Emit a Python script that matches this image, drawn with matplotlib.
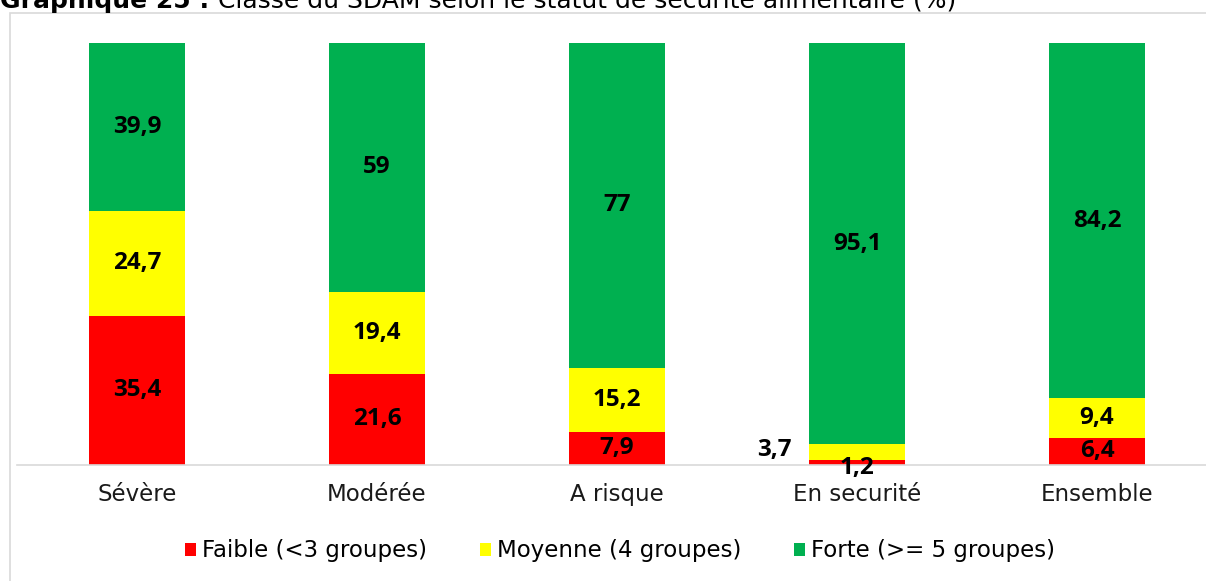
import matplotlib
matplotlib.use("Agg")
import matplotlib.pyplot as plt
from matplotlib.patches import Rectangle

# ------------------------------------------------------------
#  données (%)
# ------------------------------------------------------------
categories = ["Sévère", "Modérée", "A risque", "En securité", "Ensemble"]
faible = [35.4, 21.6, 7.9, 1.2, 6.4]
moyenne = [24.7, 19.4, 15.2, 3.7, 9.4]
forte = [39.9, 59, 77, 95.1, 84.2]
series_labels = ["Faible (<3 groupes)", "Moyenne (4 groupes)", "Forte (>= 5 groupes)"]
colors = ["#FF0000", "#FFFF00", "#00B050"]

W, H = 1206, 581
fig = plt.figure(figsize=(W / 100, H / 100), dpi=100)

# cadre gris autour du graphique
fig.patches.append(Rectangle((10 / W, -0.1), 1.1, (H - 13) / H + 0.1,
                             transform=fig.transFigure, fill=False,
                             edgecolor="#d9d9d9", linewidth=1.2))

ax = fig.add_axes([17 / W, 116 / H, 1200 / W, 422 / H])
x = list(range(len(categories)))
bottom = [0] * len(categories)
for vals, lab, c in zip([faible, moyenne, forte], series_labels, colors):
    ax.bar(x, vals, width=0.4, bottom=bottom, color=c, label=lab)
    bottom = [bb + v for bb, v in zip(bottom, vals)]

ax.set_xlim(-0.5, 4.5)
ax.set_ylim(0, 100)
for s in ["top", "right", "left"]:
    ax.spines[s].set_visible(False)
ax.spines["bottom"].set_color("#d9d9d9")
ax.spines["bottom"].set_linewidth(1.2)
ax.set_yticks([])
ax.set_xticks(x)
ax.set_xticklabels(categories, fontsize=16.5, color="#1a1a1a", family="DejaVu Sans")
ax.tick_params(axis="x", length=0, pad=13)

# étiquettes de valeurs
lab_kw = dict(fontsize=17.5, fontweight="bold", family="Open Sans",
              ha="center", va="center", color="black")
def fmt(v):
    return f"{v:g}".replace(".", ",")

start = [0] * len(categories)
for vals in [faible, moyenne, forte]:
    for i, v in enumerate(vals):
        cy = start[i] + v / 2
        if categories[i] == "En securité" and v < 2:
            ax.text(i, start[i] - 0.6, fmt(v), **lab_kw)
        elif categories[i] == "En securité" and v < 5:
            ax.text(i - 0.345, cy + 0.5, fmt(v), **lab_kw)
        else:
            ax.text(i, cy, fmt(v), **lab_kw)
    start = [s + v for s, v in zip(start, vals)]

fig.legend(loc="center", bbox_to_anchor=(0.514, 1 - 551 / H), ncol=3,
           frameon=False, handlelength=0.5, handleheight=0.5,
           handletextpad=0.25, columnspacing=2.3,
           prop={"family": "DejaVu Sans", "size": 16.5})

# titre (coupé en haut)
fig.canvas.draw()
r = fig.canvas.get_renderer()
t1 = fig.text(0, 1 - 8 / H, "Graphique 25 : ", fontsize=18, fontweight="bold",
              family="DejaVu Sans", va="baseline", ha="left")
bb = t1.get_window_extent(renderer=r)
fig.text(bb.x1 / W, 1 - 8 / H, "Classe du SDAM selon le statut de sécurité alimentaire (%)",
         fontsize=18, family="DejaVu Sans", va="baseline", ha="left")

fig.savefig("out.png", dpi=100)
